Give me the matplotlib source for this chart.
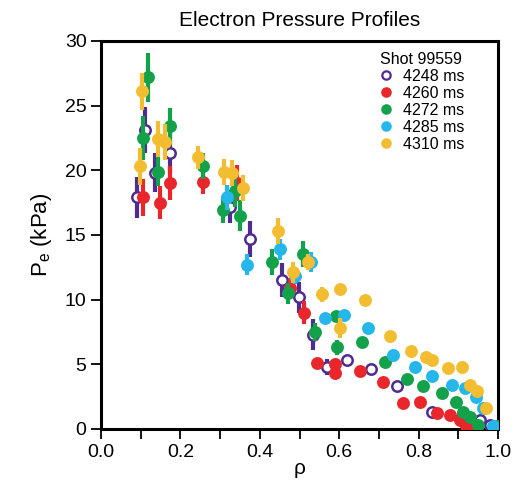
import matplotlib
matplotlib.use('Agg')
import matplotlib.pyplot as plt
from matplotlib.lines import Line2D
from matplotlib.ticker import MultipleLocator

plt.rcParams['font.family'] = ['Liberation Sans', 'DejaVu Sans']

labels = ['4248 ms', '4260 ms', '4272 ms', '4285 ms', '4310 ms']
colors = ['#4f2c8f', '#e8262c', '#13a24a', '#25b6ea', '#f2bd30']

rho_4248 = [0.091, 0.111, 0.136, 0.174, 0.325, 0.375, 0.456, 0.498, 0.534, 0.569, 0.62, 0.68, 0.746, 0.834, 0.912, 0.955, 0.98]
pe_4248 = [17.9, 23.1, 19.8, 21.3, 17.2, 14.7, 11.5, 10.2, 7.3, 4.8, 5.3, 4.6, 3.3, 1.3, 1.1, 0.7, 0.3]
err_4248 = [1.6, 1.8, 1.5, 1.6, 1.3, 1.4, 1.3, 1.2, 1.2, 0.6, 0.4, 0.3, 0.3, 0.2, 0.2, 0.1, 0.1]

rho_4260 = [0.106, 0.149, 0.174, 0.257, 0.343, 0.476, 0.512, 0.544, 0.59, 0.59, 0.652, 0.71, 0.761, 0.803, 0.846, 0.879, 0.904, 0.92, 0.946]
pe_4260 = [17.9, 17.5, 19.0, 19.1, 19.0, 10.9, 9.0, 5.1, 5.0, 4.3, 4.5, 3.6, 2.0, 2.1, 1.2, 1.1, 0.7, 0.2, 0.2]
err_4260 = [1.4, 1.3, 1.3, 0.9, 1.4, 0.8, 0.9, 0.3, 0.3, 0.3, 0.2, 0.2, 0.2, 0.2, 0.1, 0.1, 0.1, 0.1, 0.1]

rho_4272 = [0.106, 0.118, 0.144, 0.174, 0.257, 0.307, 0.338, 0.35, 0.43, 0.471, 0.509, 0.539, 0.592, 0.594, 0.657, 0.716, 0.771, 0.811, 0.859, 0.894, 0.912, 0.929, 0.95, 0.997]
pe_4272 = [22.5, 27.2, 19.9, 23.4, 20.3, 16.9, 18.4, 16.5, 12.9, 10.5, 13.5, 7.5, 8.7, 6.3, 6.7, 5.2, 3.9, 3.3, 2.8, 2.1, 1.3, 0.9, 0.3, 0.2]
err_4272 = [1.7, 1.9, 1.1, 1.4, 1.0, 1.0, 1.2, 1.2, 1.0, 0.8, 1.0, 0.7, 0.3, 0.6, 0.2, 0.2, 0.2, 0.2, 0.2, 0.1, 0.1, 0.1, 0.1, 0.1]

rho_4285 = [0.317, 0.368, 0.451, 0.489, 0.529, 0.564, 0.612, 0.673, 0.736, 0.791, 0.834, 0.884, 0.917, 0.945, 0.962, 0.987]
pe_4285 = [17.9, 12.7, 13.9, 11.8, 12.9, 8.6, 8.8, 7.8, 5.7, 4.8, 4.1, 3.4, 3.2, 2.5, 1.6, 0.2]
err_4285 = [1.0, 0.8, 0.8, 0.6, 0.8, 0.4, 0.3, 0.2, 0.2, 0.2, 0.2, 0.1, 0.1, 0.1, 0.1, 0.1]

rho_4310 = [0.098, 0.103, 0.144, 0.161, 0.243, 0.31, 0.33, 0.357, 0.446, 0.484, 0.521, 0.557, 0.602, 0.602, 0.665, 0.728, 0.781, 0.819, 0.834, 0.874, 0.909, 0.929, 0.947, 0.97]
pe_4310 = [20.3, 26.1, 22.4, 22.2, 21.0, 19.9, 19.8, 18.6, 15.3, 12.1, 12.9, 10.4, 10.8, 7.8, 10.0, 7.2, 6.0, 5.6, 5.3, 4.7, 4.8, 3.4, 2.9, 1.6]
err_4310 = [1.4, 1.4, 1.4, 1.4, 0.9, 1.0, 1.0, 1.0, 1.0, 0.8, 0.6, 0.6, 0.3, 0.8, 0.3, 0.2, 0.2, 0.2, 0.2, 0.2, 0.2, 0.1, 0.1, 0.1]

series = [
    (rho_4248, pe_4248, err_4248),
    (rho_4260, pe_4260, err_4260),
    (rho_4272, pe_4272, err_4272),
    (rho_4285, pe_4285, err_4285),
    (rho_4310, pe_4310, err_4310),
]

fig = plt.figure(figsize=(5.16, 4.82), dpi=100)
ax = fig.add_axes([0.196, 0.110, 0.769, 0.805])

handles = []
for i, (x, y, e) in enumerate(series):
    c = colors[i]
    face = 'white' if i == 0 else c
    ax.errorbar(x, y, yerr=e, fmt='o', color=c, ecolor=c, elinewidth=3,
                capsize=0, markersize=7.5, markerfacecolor=face,
                markeredgecolor=c, markeredgewidth=1.8, zorder=3 + i)
    handles.append(Line2D([], [], ls='none', marker='o', markersize=6,
                          markerfacecolor=face, markeredgecolor=c,
                          markeredgewidth=1.6, label=labels[i]))

ax.set_xlim(0, 1.0)
ax.set_ylim(0, 30)
ax.xaxis.set_major_locator(MultipleLocator(0.2))
ax.xaxis.set_minor_locator(MultipleLocator(0.1))
ax.yaxis.set_major_locator(MultipleLocator(5))
ax.tick_params(which='both', direction='out', length=7, width=1.3,
               labelsize=14, top=False, right=False)
ax.xaxis.set_ticks([0.0, 0.2, 0.4, 0.6, 0.8, 1.0])
ax.set_xticklabels([f'{v:.1f}' for v in [0.0, 0.2, 0.4, 0.6, 0.8, 1.0]])
for sp in ax.spines.values():
    sp.set_linewidth(2.2)

ax.set_xlabel('ρ', fontsize=15, labelpad=-1)
ax.set_ylabel('P$_\\mathregular{e}$ (kPa)', fontsize=16, labelpad=8)
ax.set_title('Electron Pressure Profiles', fontsize=15, pad=11)

leg = ax.legend(handles=handles, title='Shot 99559', loc='upper right',
                bbox_to_anchor=(0.945, 1.0),
                frameon=False, fontsize=11.5, title_fontsize=11.5,
                handlelength=1.0, handletextpad=0.6, labelspacing=0.12,
                borderaxespad=0.3)

fig.savefig('out.png', dpi=100)
